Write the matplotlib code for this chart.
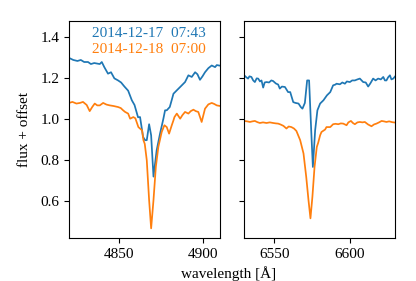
import numpy as np
import matplotlib
matplotlib.use('Agg')
import matplotlib.pyplot as plt

plt.rcParams['font.family'] = ['Liberation Serif', 'DejaVu Serif']
plt.rcParams['font.size'] = 11

# H-beta region
hb_wave_1 = [4820, 4822.5, 4825, 4827, 4829, 4831.3, 4833, 4835, 4838.3, 4839.5,
             4841, 4843.2, 4845, 4847, 4849.2, 4851, 4853, 4855.2, 4857.4, 4859,
             4861.1, 4862.3, 4864.1, 4865.3, 4866.3, 4867.7, 4868.9, 4870.3, 4872.2, 4874.2,
             4876.2, 4877.2, 4878.2, 4880, 4881.2, 4882.2, 4884, 4886.2, 4889.1, 4891.1,
             4893.1, 4895.1, 4896.5, 4898, 4899.5, 4901, 4903, 4905, 4907, 4908, 4910]
hb_flux_1 = [1.30, 1.29, 1.285, 1.29, 1.28, 1.28, 1.27, 1.275, 1.27, 1.28,
             1.255, 1.223, 1.23, 1.20, 1.19, 1.18, 1.16, 1.14, 1.093, 1.07,
             1.01, 1.011, 0.914, 0.898, 0.898, 0.976, 0.922, 0.72, 0.849, 0.93,
             1.003, 1.044, 1.044, 1.06, 1.095, 1.125, 1.14, 1.158, 1.182, 1.215,
             1.207, 1.23, 1.22, 1.193, 1.21, 1.23, 1.25, 1.263, 1.255, 1.265, 1.262]

hb_wave_2 = [4820, 4822, 4824.4, 4826.5, 4828.3, 4830.5, 4832.3, 4833.8, 4835.3, 4836.8,
             4838.3, 4840.3, 4842.3, 4844.3, 4846.5, 4849.2, 4850.8, 4852.2, 4853.4, 4855.2,
             4856.4, 4858.3, 4859.5, 4861.3, 4863.5, 4864.3, 4865.1, 4866.3, 4867.7, 4868.9,
             4870.3, 4871.7, 4873.2, 4875.2, 4876.8, 4878.2, 4879.6, 4881.2, 4882.2, 4882.8,
             4884.2, 4886.2, 4887.5, 4889.1, 4891.1, 4892.5, 4894.1, 4895.5, 4897, 4899,
             4901, 4903, 4905, 4906.5, 4908, 4910]
hb_flux_2 = [1.08, 1.085, 1.077, 1.08, 1.085, 1.07, 1.04, 1.06, 1.077, 1.068,
             1.068, 1.08, 1.072, 1.068, 1.065, 1.06, 1.055, 1.044, 1.036, 1.028,
             1.003, 1.011, 1.005, 0.962, 0.946, 0.898, 0.88, 0.80, 0.605, 0.467,
             0.605, 0.767, 0.865, 0.938, 0.971, 0.962, 0.93, 0.971, 0.995, 1.011,
             1.028, 1.003, 1.02, 1.036, 1.028, 1.04, 1.047, 1.04, 1.036, 0.987,
             1.052, 1.073, 1.08, 1.075, 1.068, 1.065]

# H-alpha region
ha_wave_1 = [6530, 6531.5, 6532.6, 6533.5, 6534.8, 6536, 6537.1, 6538.3, 6539.3, 6540.5,
             6541.5, 6542.6, 6543.6, 6544.8, 6546.5, 6548, 6549.2, 6551, 6552.5, 6553.6,
             6555, 6557, 6559.1, 6560.5, 6562.5, 6564, 6566, 6567.5, 6568.6, 6570.2,
             6571.7, 6573, 6574.4, 6575.5, 6577, 6578.5, 6580.3, 6582.5, 6584.8, 6587,
             6588.9, 6590.5, 6591.1, 6593.4, 6595, 6596.7, 6598, 6600, 6601.5, 6603.3,
             6605, 6606.6, 6608.8, 6610.5, 6612.1, 6613.5, 6615.4, 6617, 6618.7, 6620.5,
             6622.1, 6623.2, 6624.2, 6625.3, 6626.5, 6627.5, 6628.7, 6630]
ha_flux_1 = [1.215, 1.205, 1.199, 1.21, 1.207, 1.19, 1.182, 1.20, 1.199, 1.185,
             1.19, 1.155, 1.18, 1.182, 1.18, 1.19, 1.187, 1.175, 1.17, 1.15,
             1.16, 1.158, 1.133, 1.133, 1.084, 1.08, 1.077, 1.06, 1.052, 1.08,
             1.19, 1.19, 0.946, 0.767, 0.946, 1.044, 1.077, 1.093, 1.117, 1.133,
             1.166, 1.17, 1.174, 1.171, 1.18, 1.174, 1.185, 1.182, 1.19, 1.19,
             1.195, 1.199, 1.182, 1.18, 1.16, 1.175, 1.199, 1.19, 1.199, 1.195,
             1.207, 1.19, 1.19, 1.205, 1.215, 1.195, 1.199, 1.21]

ha_wave_2 = [6530, 6532, 6533.8, 6535.5, 6537.1, 6538.8, 6540.4, 6542.5, 6544.8, 6547,
             6549.2, 6551, 6552.5, 6554, 6556, 6558, 6559.5, 6561.3, 6563, 6564.6,
             6567.1, 6569.3, 6571.1, 6572.6, 6573.9, 6575.2, 6576.6, 6578.1, 6579, 6580.3,
             6581.2, 6583.6, 6584.5, 6587, 6588.9, 6590.5, 6592.3, 6594, 6595.6, 6597.8,
             6599, 6600.7, 6602, 6603.3, 6605, 6606.6, 6608.3, 6609.9, 6612, 6614.3,
             6616, 6617.6, 6619.3, 6621, 6622.5, 6624.2, 6626, 6628, 6630]
ha_flux_2 = [0.992, 0.99, 0.987, 0.99, 0.992, 0.986, 0.982, 0.985, 0.982, 0.985,
             0.982, 0.98, 0.979, 0.975, 0.968, 0.955, 0.965, 0.962, 0.955, 0.943,
             0.898, 0.833, 0.719, 0.605, 0.516, 0.622, 0.767, 0.865, 0.885, 0.922,
             0.938, 0.95, 0.962, 0.962, 0.976, 0.978, 0.976, 0.98, 0.979, 0.971,
             0.985, 0.992, 0.982, 0.976, 0.985, 0.987, 0.985, 0.987, 0.975, 0.966,
             0.975, 0.979, 0.985, 0.992, 0.99, 0.987, 0.99, 0.986, 0.984]

labels = ['2014-12-17  07:43', '2014-12-18  07:00']
colors = ['#1f77b4', '#ff7f0e']

fig, (ax1, ax2) = plt.subplots(1, 2, sharey=True, figsize=(4.16, 2.81), dpi=100)
fig.subplots_adjust(left=0.166, right=0.95, bottom=0.153, top=0.925, wspace=0.159)

ax1.plot(hb_wave_1, hb_flux_1, color=colors[0], lw=1.25)
ax1.plot(hb_wave_2, hb_flux_2, color=colors[1], lw=1.25)
ax2.plot(ha_wave_1, ha_flux_1, color=colors[0], lw=1.25)
ax2.plot(ha_wave_2, ha_flux_2, color=colors[1], lw=1.25)

ax1.set_xlim(4820, 4910)
ax2.set_xlim(6530, 6630)
ax1.set_ylim(0.42, 1.48)
ax1.set_xticks([4850, 4900])
ax2.set_xticks([6550, 6600])
ax1.set_yticks([0.6, 0.8, 1.0, 1.2, 1.4])

# date labels in the colour of each spectrum
ax1.text(0.907, 0.945, labels[0], color=colors[0], ha='right', va='center', transform=ax1.transAxes)
ax1.text(0.907, 0.871, labels[1], color=colors[1], ha='right', va='center', transform=ax1.transAxes)

ax1.set_ylabel('flux + offset', labelpad=7)
fig.text(0.55, 0.028, 'wavelength [Å]', ha='center', va='center')

fig.savefig('out.png', dpi=100)
